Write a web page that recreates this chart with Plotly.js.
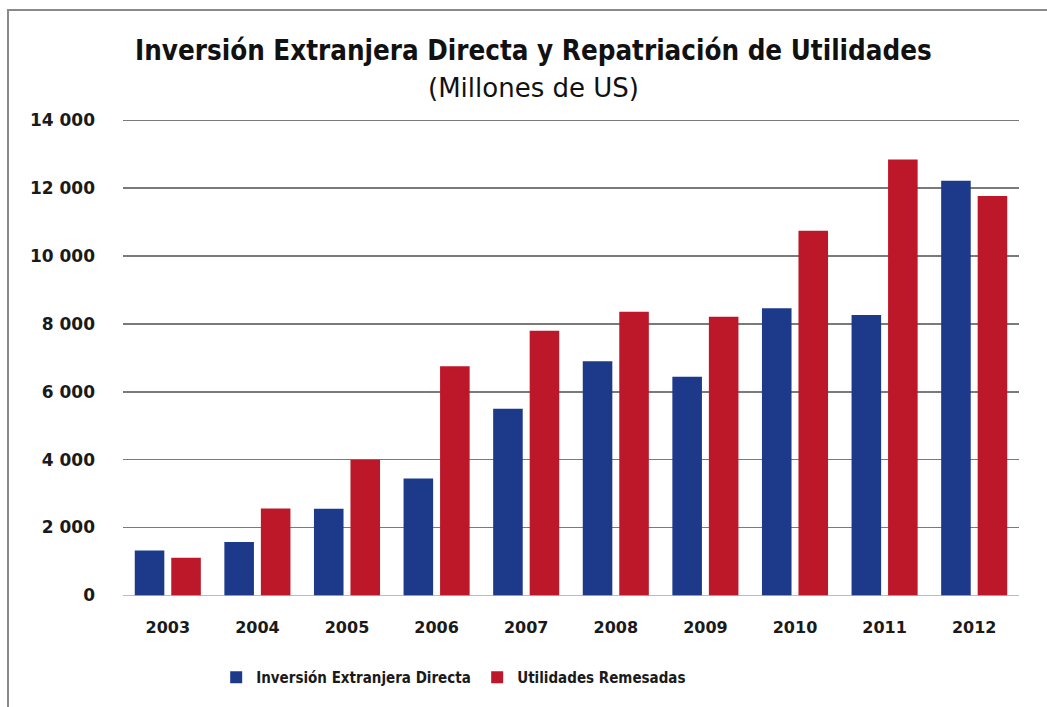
<!DOCTYPE html>
<html>
<head>
<meta charset="utf-8">
<script src="https://cdn.plot.ly/plotly-3.0.1.min.js"></script>
<style>
  html, body { margin: 0; padding: 0; background: #ffffff; }
  #wrap { position: relative; width: 1047px; height: 707px; overflow: hidden; }
  #chart { position: absolute; left: 0; top: 0; width: 1047px; height: 707px; }
  #frame { position: absolute; left: 7px; top: 9px; width: 1100px; height: 800px;
           border-left: 2px solid #8a8a8a; border-top: 2px solid #8a8a8a; pointer-events: none; }
</style>
</head>
<body>
<div id="wrap">
  <div id="chart"></div>
  <div id="frame"></div>
</div>
<script>
const years = ['2003','2004','2005','2006','2007','2008','2009','2010','2011','2012'];
const ied = [1320, 1570, 2550, 3440, 5500, 6900, 6440, 8460, 8260, 12220];
const utilidades = [1110, 2560, 4000, 6750, 7800, 8360, 8210, 10750, 12850, 11770];
const tickVals = [0, 2000, 4000, 6000, 8000, 10000, 12000, 14000];
const tickText = ['0', '2 000', '4 000', '6 000', '8 000', '10 000', '12 000', '14 000'];
const seriesNames = ['Inversión Extranjera Directa', 'Utilidades Remesadas'];

const cond = '"DejaVu Sans Condensed", "DejaVu Sans", sans-serif';
const reg = '"DejaVu Sans", sans-serif';

const traces = [
  { type: 'bar', name: seriesNames[0], x: years, y: ied,
    marker: { color: '#1d3a8a', line: { width: 0 } }, hoverinfo: 'x+y' },
  { type: 'bar', name: seriesNames[1], x: years, y: utilidades,
    marker: { color: '#bc182a', line: { width: 0 } }, hoverinfo: 'x+y' }
];

const layout = {
  width: 1047, height: 707,
  paper_bgcolor: '#ffffff', plot_bgcolor: '#ffffff',
  margin: { l: 123, r: 28, t: 117, b: 111, pad: 0 },
  barmode: 'group', bargap: 0.185, bargroupgap: 0.19,
  showlegend: true,
  legend: { orientation: 'h', x: 0.104, xanchor: 'left', y: -0.17, yanchor: 'middle',
            font: { family: cond, size: 15, color: '#1a1a1a', weight: 'bold' },
            itemwidth: 30, entrywidth: 216, entrywidthmode: 'pixels',
            traceorder: 'normal', bgcolor: 'rgba(0,0,0,0)' },
  xaxis: { type: 'category', showgrid: false, zeroline: false, showline: false,
           ticks: '', ticklen: 0, ticklabelstandoff: 20,
           tickfont: { family: reg, size: 16, color: '#1a1a1a', weight: 'bold' } },
  yaxis: { range: [-20, 14100], tickmode: 'array', tickvals: tickVals, ticktext: tickText,
           showgrid: true, gridcolor: '#7a7a7a', gridwidth: 1.6,
           zeroline: true, zerolinecolor: '#b4c0b8', zerolinewidth: 1.6,
           showline: false, ticks: '', ticklabelstandoff: 27,
           tickfont: { family: reg, size: 17, color: '#1a1a1a', weight: 'bold' } },
  annotations: [
    { text: '<b>Inversión Extranjera Directa y Repatriación de Utilidades</b>',
      xref: 'paper', yref: 'paper', x: 0.4576, y: 1.140, xanchor: 'center', yanchor: 'middle',
      showarrow: false, font: { family: cond, size: 27.5, color: '#111111' } },
    { text: '(Millones de US)',
      xref: 'paper', yref: 'paper', x: 0.4576, y: 1.0605, xanchor: 'center', yanchor: 'middle',
      showarrow: false, font: { family: reg, size: 26, color: '#111111' } }
  ]
};

Plotly.newPlot('chart', traces, layout, { displayModeBar: false, staticPlot: true });
</script>
</body>
</html>
